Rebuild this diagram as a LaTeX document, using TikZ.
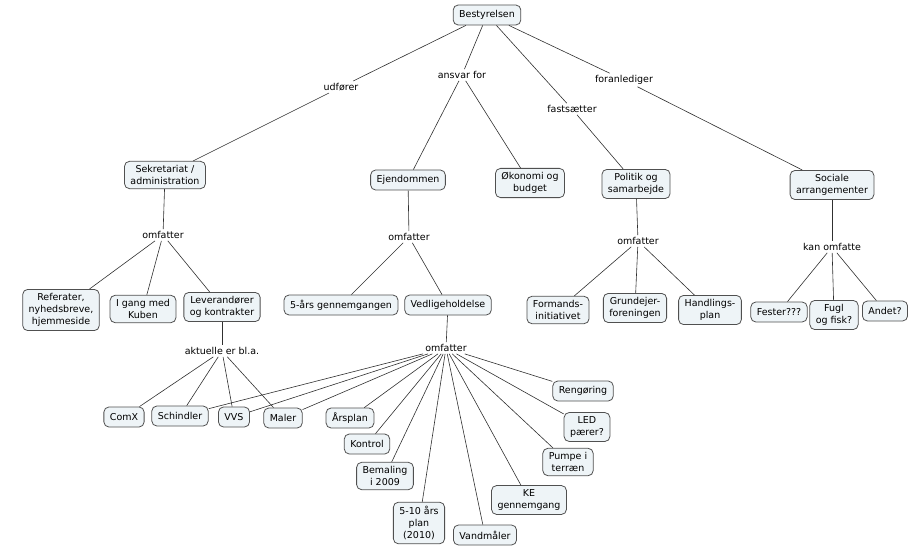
\documentclass[tikz,border=0pt]{standalone}
\usepackage[rgb]{xcolor}
\usepackage{fontspec}
\setmainfont{DejaVu Sans}
\usepackage{tikz}

\definecolor{boxfill}{HTML}{EEF4F7}
\definecolor{boxline}{HTML}{505050}
\definecolor{linkcol}{HTML}{303030}

\begin{document}
\begin{tikzpicture}[x=1pt,y=-1pt]
  \tikzset{concept/.style={draw=boxline,fill=boxfill,line width=0.8pt,rounded corners=5pt,
      align=center,inner xsep=6pt,inner ysep=4pt,minimum height=20pt,font=\fontsize{9.5}{12}\selectfont},
    phrase/.style={inner sep=2pt,font=\fontsize{9.5}{12}\selectfont},
    link/.style={draw=linkcol,line width=0.6pt}}%
\useasboundingbox (0,0) rectangle (915,556);
% concepts
\node[concept] (best) at (487,15) {Bestyrelsen};
\node[concept] (sek) at (165,175) {Sekretariat /\\administration};
\node[concept] (ejd) at (408,180) {Ejendommen};
\node[concept] (oko) at (530,183) {Økonomi og\\budget};
\node[concept] (pol) at (636,184) {Politik og\\samarbejde};
\node[concept] (soc) at (832,185) {Sociale\\arrangementer};
\node[concept] (ref) at (61,310) {Referater,\\nyhedsbreve,\\hjemmeside};
\node[concept] (kub) at (143,309) {I gang med\\Kuben};
\node[concept] (lev) at (222,307) {Leverandører\\og kontrakter};
\node[concept] (femaar) at (341,305) {5-års gennemgangen};
\node[concept] (ved) at (448,305) {Vedligeholdelse};
\node[concept] (for) at (558,310) {Formands-\\initiativet};
\node[concept] (gru) at (635,308) {Grundejer-\\foreningen};
\node[concept] (han) at (710,310) {Handlings-\\plan};
\node[concept] (fes) at (779,312) {Fester???};
\node[concept] (fug) at (834,315) {Fugl\\og fisk?};
\node[concept] (and) at (885,311) {Andet?};
\node[concept] (comx) at (124,417) {ComX};
\node[concept] (sch) at (180,416) {Schindler};
\node[concept] (vvs) at (234,417) {VVS};
\node[concept] (mal) at (283,418) {Maler};
\node[concept] (aar) at (350,418) {Årsplan};
\node[concept] (kon) at (367,444) {Kontrol};
\node[concept] (bem) at (385,476) {Bemaling\\i 2009};
\node[concept] (tiaar) at (419,523) {5-10 års\\plan\\(2010)};
\node[concept] (van) at (485,535) {Vandmåler};
\node[concept] (ke) at (529,500) {KE\\gennemgang};
\node[concept] (pum) at (568,462) {Pumpe i\\terræn};
\node[concept] (led) at (587,427) {LED\\pærer?};
\node[concept] (ren) at (583,391) {Rengøring};
% linking phrases
\node[phrase] (udf) at (341,87) {udfører};
\node[phrase] (ans) at (462,75) {ansvar for};
\node[phrase] (fas) at (572,109) {fastsætter};
\node[phrase] (fan) at (624,80) {foranlediger};
\node[phrase] (om1) at (163,235) {omfatter};
\node[phrase] (om2) at (409,237) {omfatter};
\node[phrase] (om3) at (446,348) {omfatter};
\node[phrase] (om4) at (638,241) {omfatter};
\node[phrase] (kan) at (832,247) {kan omfatte};
\node[phrase] (akt) at (222,351) {aktuelle er bl.a.};
% links
\draw[link] (best) -- (udf);
\draw[link] (best) -- (ans);
\draw[link] (best) -- (fas);
\draw[link] (best) -- (fan);
\draw[link] (udf) -- (sek);
\draw[link] (ans) -- (ejd);
\draw[link] (ans) -- (oko);
\draw[link] (fas) -- (pol);
\draw[link] (fan) -- (soc);
\draw[link] (sek) -- (om1);
\draw[link] (om1) -- (ref);
\draw[link] (om1) -- (kub);
\draw[link] (om1) -- (lev);
\draw[link] (lev) -- (akt);
\draw[link] (akt) -- (comx);
\draw[link] (akt) -- (sch);
\draw[link] (akt) -- (vvs);
\draw[link] (akt) -- (mal);
\draw[link] (ejd) -- (om2);
\draw[link] (om2) -- (femaar);
\draw[link] (om2) -- (ved);
\draw[link] (ved) -- (om3);
\draw[link] (om3) -- (sch);
\draw[link] (om3) -- (vvs);
\draw[link] (om3) -- (mal);
\draw[link] (om3) -- (aar);
\draw[link] (om3) -- (kon);
\draw[link] (om3) -- (bem);
\draw[link] (om3) -- (tiaar);
\draw[link] (om3) -- (van);
\draw[link] (om3) -- (ke);
\draw[link] (om3) -- (pum);
\draw[link] (om3) -- (led);
\draw[link] (om3) -- (ren);
\draw[link] (pol) -- (om4);
\draw[link] (om4) -- (for);
\draw[link] (om4) -- (gru);
\draw[link] (om4) -- (han);
\draw[link] (soc) -- (kan);
\draw[link] (kan) -- (fes);
\draw[link] (kan) -- (fug);
\draw[link] (kan) -- (and);
\end{tikzpicture}
\end{document}
